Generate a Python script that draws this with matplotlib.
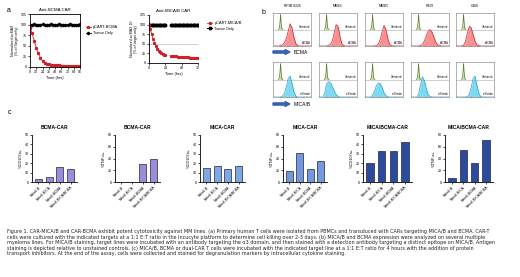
import numpy as np
import matplotlib
matplotlib.use("Agg")
import matplotlib.pyplot as plt

plt.rcParams['font.family'] = ['Liberation Sans', 'DejaVu Sans']

W, H = 520, 277

# ---- panel a data ----
t_bcma = [0, 4, 8, 12, 16, 20, 24, 28, 32, 36, 40, 44, 48, 52, 56, 60, 64, 68, 72, 76, 80, 84, 88, 92, 96]
car_bcma = [93, 80, 62, 45, 32, 22, 14, 9, 7, 6, 5, 5, 4, 4, 4, 3, 3, 3, 3, 3, 3, 2, 2, 2, 2]
tumor_bcma = [100, 99, 101, 100, 99, 100, 101, 100, 99, 100, 101, 100, 100, 99, 101, 100, 100, 99, 100, 101, 100, 99, 100, 100, 101]

t_mica1 = [0, 2, 4, 6, 8, 10, 12, 14, 16, 18, 20, 22, 24]
car_mica1 = [100, 88, 75, 63, 52, 44, 37, 32, 28, 25, 23, 21, 20]
t_mica2 = [32, 34, 36, 38, 40, 42, 44, 46, 48, 50, 52, 54, 56, 58, 60, 62, 64, 66, 68, 70, 72]
car_mica2 = [18, 18, 17.5, 17, 17, 16.5, 16, 16, 15.5, 15, 15, 15, 14.5, 14.5, 14, 14, 14, 14, 13.5, 13.5, 13.5]
tumor_mica1 = [100] * 13
tumor_mica2 = [100] * 21

# ---- panel b data (histograms, decades 0-5) ----
cell_lines = ["RPMI 8226", "MM1S", "MM1R", "H929", "U266"]
grid = [0, 0.25, 0.5, 0.75, 1, 1.25, 1.5, 1.75, 2, 2.25, 2.5, 2.75, 3, 3.25, 3.5, 3.75, 4, 4.25, 4.5, 4.75, 5]
green_x = [0.7, 0.85, 0.95, 1.0, 1.05, 1.15, 1.3]
green_y = [0, 0.1, 0.6, 0.9, 0.5, 0.08, 0]
bcma_hist = [
    [0, 0, 0, 0, 0.02, 0.08, 0.2, 0.45, 0.9, 1.35, 1.1, 0.55, 0.15, 0.03, 0, 0, 0, 0, 0, 0, 0],
    [0, 0, 0, 0, 0, 0.03, 0.1, 0.3, 0.8, 1.3, 1.2, 0.6, 0.15, 0.02, 0, 0, 0, 0, 0, 0, 0],
    [0, 0, 0, 0, 0, 0, 0.03, 0.12, 0.4, 0.85, 1.25, 1.0, 0.45, 0.1, 0.02, 0, 0, 0, 0, 0, 0],
    [0, 0, 0, 0, 0, 0.02, 0.1, 0.3, 0.6, 0.9, 1.0, 0.85, 0.55, 0.25, 0.08, 0.02, 0, 0, 0, 0, 0],
    [0, 0, 0, 0, 0.05, 0.3, 0.8, 1.2, 1.1, 0.7, 0.3, 0.08, 0.02, 0, 0, 0, 0, 0, 0, 0, 0],
]
mica_hist = [
    [0, 0, 0, 0, 0, 0.05, 0.2, 0.6, 1.05, 1.2, 0.8, 0.3, 0.06, 0, 0, 0, 0, 0, 0, 0, 0],
    [0, 0, 0, 0.2, 0.75, 0.88, 0.8, 0.6, 0.35, 0.15, 0.04, 0, 0, 0, 0, 0, 0, 0, 0, 0, 0],
    [0, 0, 0, 0, 0.1, 0.35, 0.65, 0.8, 0.78, 0.55, 0.25, 0.08, 0.01, 0, 0, 0, 0, 0, 0, 0, 0],
    [0, 0, 0, 0, 0.15, 0.7, 1.16, 0.95, 0.5, 0.15, 0.03, 0, 0, 0, 0, 0, 0, 0, 0, 0, 0],
    [0, 0, 0, 0, 0, 0, 0.03, 0.15, 0.55, 1.05, 1.2, 0.7, 0.2, 0.03, 0, 0, 0, 0, 0, 0, 0],
]

# ---- panel c data ----
targets = ["Nalm6-B", "Nalm6-MICA", "Nalm6-BCMA", "Nalm6-MICA/BCMA"]
bcma_cd107 = [3, 5, 16, 14]
bcma_tnf = [0, 0.5, 30, 39]
mica_cd107 = [15, 17, 14, 17]
mica_tnf = [18, 49, 22, 35]
dual_cd107 = [20, 33, 33, 43]
dual_tnf = [7, 55, 32, 72]

caption = ("Figure 1. CAR-MICA/B and CAR-BCMA exhibit potent cytotoxicity against MM lines. (a) Primary human T cells were isolated from PBMCs and transduced with CARs targeting MICA/B and BCMA. CAR-T\n"
           "cells were cultured with the indicated targets at a 1:1 E:T ratio in the Incucyte platform to determine cell killing over 2-3 days. (b) MICA/B and BCMA expression were analyzed on several multiple\n"
           "myeloma lines. For MICA/B staining, target lines were incubated with an antibody targeting the \u03b13 domain, and then stained with a detection antibody targeting a distinct epitope on MICA/B. Antigen\n"
           "staining is depicted relative to unstained controls. (c) MICA/B, BCMA or dual-CAR T cells were incubated with the indicated target line at a 1:1 E:T ratio for 4 hours with the addition of protein\n"
           "transport inhibitors. At the end of the assay, cells were collected and stained for degranulation markers by intracellular cytokine staining.")

fig = plt.figure(figsize=(W / 100, H / 100), dpi=100)


def px_axes(x0, y0, x1, y1):
    return fig.add_axes([x0 / W, 1 - y1 / H, (x1 - x0) / W, (y1 - y0) / H])


def ftext(x, y, s, **kw):
    fig.text(x / W, 1 - y / H, s, **kw)


def style_small(ax):
    for s in ['top', 'right']:
        ax.spines[s].set_visible(False)
    for s in ['left', 'bottom']:
        ax.spines[s].set_linewidth(0.6)
    ax.tick_params(labelsize=2.6, width=0.5, length=1.5, pad=0.8)


# ---- panel a ----
ftext(7, 10, "a", fontsize=5, va='center')
ax = px_axes(30, 14, 80, 67)
ax.plot(t_bcma, tumor_bcma, color='black', marker='D', ms=1.3, lw=0.6)
ax.plot(t_bcma, car_bcma, color='#d0202a', marker='s', ms=1.3, lw=0.6)
ax.set_xlim(0, 96)
ax.set_ylim(0, 125)
ax.set_xticks([0, 12, 24, 36, 48, 60, 72, 84, 96])
ax.set_yticks([0, 25, 50, 75, 100, 125])
ax.set_title("Anti-BCMA CAR", fontsize=3.2, pad=2)
ax.set_xlabel("Time (hrs)", fontsize=2.8, labelpad=1)
ax.set_ylabel("Normalized to MAX\n(% of Target only)", fontsize=2.6, labelpad=1)
style_small(ax)
for s in ['top', 'right']:
    ax.spines[s].set_visible(True)
    ax.spines[s].set_linewidth(0.6)
ax.plot([], [], color='#d0202a', marker='s', ms=1.3, lw=0.6, label='pCART-BCMA')
ax.plot([], [], color='black', marker='D', ms=1.3, lw=0.6, label='Tumor Only')
h, l = ax.get_legend_handles_labels()
ax.legend(h[-2:], l[-2:], loc='upper left', bbox_to_anchor=(1.05, 0.85), fontsize=2.8,
          frameon=False, handlelength=1.2, labelspacing=0.5, handletextpad=0.6)

ax = px_axes(149, 15, 198, 63)
ax.axhline(50, color='#bbbbbb', lw=0.5)
ax.plot([t_mica1[-1], t_mica2[0]], [car_mica1[-1], car_mica2[0]], color='#bbbbbb', lw=0.4)
ax.plot(t_mica1, tumor_mica1, color='black', marker='o', ms=1.8, lw=0.8)
ax.plot(t_mica2, tumor_mica2, color='black', marker='o', ms=1.8, lw=0.8)
ax.plot(t_mica1, car_mica1, color='#d0202a', marker='s', ms=1.2, lw=0.6)
ax.plot(t_mica2, car_mica2, color='#d0202a', marker='s', ms=1.2, lw=0.6)
ax.set_xlim(0, 72)
ax.set_ylim(0, 125)
ax.set_xticks([0, 24, 48, 72])
ax.set_yticks([0, 25, 50, 75, 100, 125])
ax.set_title("Anti-MICA/B CAR", fontsize=3.2, pad=2)
ax.set_xlabel("Time (hrs)", fontsize=2.8, labelpad=1)
ax.set_ylabel("Normalized to MAX 10\n(% of target only)", fontsize=2.6, labelpad=1)
style_small(ax)
ax.plot([], [], color='#d0202a', marker='s', ms=1.3, lw=0.6, label='pCART-MICA/B')
ax.plot([], [], color='black', marker='o', ms=1.8, lw=0.8, label='Tumor Only')
h, l = ax.get_legend_handles_labels()
ax.legend(h[-2:], l[-2:], loc='upper left', bbox_to_anchor=(1.12, 0.95), fontsize=2.8,
          frameon=False, handlelength=1.2, labelspacing=0.5, handletextpad=0.6)

# ---- panel b ----
ftext(262, 12, "b", fontsize=5, va='center')
box_x = [(273, 311), (319, 357), (365, 403), (411, 449), (456, 494)]


def hist_box(x0, x1, y0, y1, hist, fc, ec, lab):
    ax = px_axes(x0, y0, x1, y1)
    ax.axhline(1.0, color='#aaaaaa', lw=0.4)
    gx = np.array(green_x)
    gy = np.array(green_y) + 1.0
    ax.fill_between(gx, 1.0, gy, color='#c7d9a8', lw=0)
    ax.plot(gx, gy, color='#5b7f2a', lw=0.5)
    ax.fill_between(grid, 0, hist, color=fc, alpha=0.8, lw=0)
    ax.plot(grid, hist, color=ec, lw=0.5)
    ax.set_xlim(0, 5)
    ax.set_ylim(0, 2)
    ax.set_xticks([1, 2, 3, 4])
    ax.set_xticklabels([])
    ax.set_yticks([])
    ax.tick_params(length=1, width=0.3)
    for s in ax.spines.values():
        s.set_linewidth(0.4)
        s.set_color('#777777')
    ax.text(4.9, 1.05, "Unstained", fontsize=1.8, ha='right', va='bottom')
    ax.text(4.9, 0.05, lab, fontsize=1.8, ha='right', va='bottom')
    return ax


for i, name in enumerate(cell_lines):
    x0, x1 = box_x[i]
    ftext((x0 + x1) / 2, 6, name, fontsize=2.4, ha='center', va='center')
    hist_box(x0, x1, 13, 46, bcma_hist[i], '#f4777a', '#d0202a', "\u03b1BCMA")
    hist_box(x0, x1, 62, 97, mica_hist[i], '#5fd0ee', '#2a9fd0', "\u03b13 binder")

for y, lab in [(52, "BCMA"), (104, "MICA/B")]:
    fig.patches.append(matplotlib.patches.FancyArrow(
        273 / W, 1 - y / H, 17 / W, 0, width=2.2 / H, head_width=5 / H, head_length=5 / W,
        length_includes_head=True, color='#3a62b0', transform=fig.transFigure))
    ftext(294, y, lab, fontsize=3.6, va='center')

# ---- panel c ----
ftext(8, 112, "c", fontsize=5, va='center')
bar_panels = [
    ((32, 77), "BCMA-CAR", "%CD107a+", bcma_cd107, 50, 10, '#9d8ad8'),
    ((115, 160), "BCMA-CAR", "%TNF-a+", bcma_tnf, 80, 20, '#9d8ad8'),
    ((200, 245), "MICA-CAR", "%CD107a+", mica_cd107, 50, 10, '#7fa8e2'),
    ((283, 327), "MICA-CAR", "%TNF-a+", mica_tnf, 80, 20, '#7399dc'),
    ((363, 412), "MICA/BCMA-CAR", "%CD107a+", dual_cd107, 50, 10, '#2b4c9c'),
    ((445, 493), "MICA/BCMA-CAR", "%TNF-a+", dual_tnf, 80, 20, '#2b4c9c'),
]
for (x0, x1), title, ylab, vals, ymax, step, col in bar_panels:
    ax = px_axes(x0, 135, x1, 182)
    ax.bar(range(len(targets)), vals, width=0.65, color=col, edgecolor='#222244', lw=0.5)
    ax.set_xlim(-0.6, len(targets) - 0.4)
    ax.set_ylim(0, ymax)
    ax.set_yticks(np.arange(0, ymax + 1, step))
    ax.set_xticks(range(len(targets)))
    ax.set_xticklabels(targets, rotation=45, ha='right', rotation_mode='anchor')
    ax.set_title(title, fontsize=3.6, fontweight='bold', pad=4)
    ax.set_ylabel(ylab, fontsize=2.8, labelpad=1.5)
    style_small(ax)
    ax.tick_params(axis='x', labelsize=2.4)

# ---- caption ----
ftext(7, 229.5, caption, fontsize=3.55, va='top', ha='left', linespacing=1.12,
      family=['DejaVu Sans'], color='#222222')

fig.savefig("out.png", dpi=100, facecolor='white')
